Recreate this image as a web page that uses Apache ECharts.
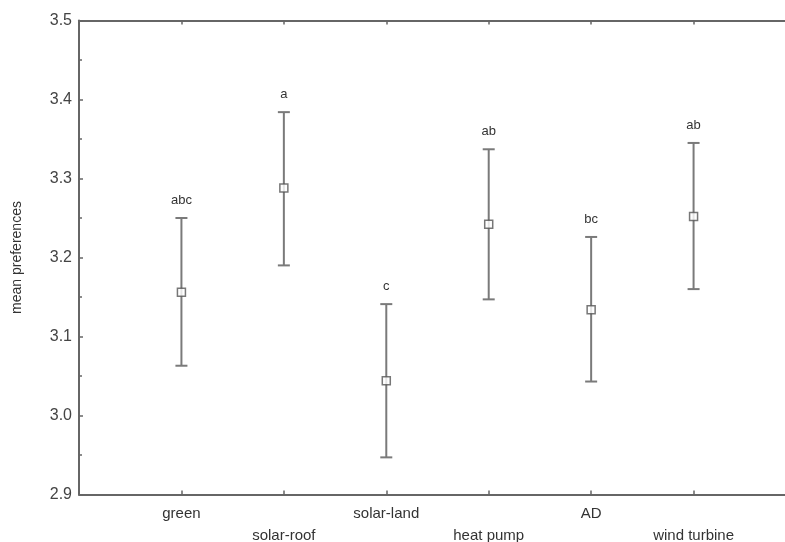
<!DOCTYPE html>
<html>
<head>
<meta charset="utf-8">
<script src="https://cdn.jsdelivr.net/npm/echarts@6/dist/echarts.min.js"></script>
<style>html,body{margin:0;padding:0;background:#fff}#c{width:785px;height:542px}</style>
</head>
<body>
<div id="c"></div>
<script>
var categories = ['green', 'solar-roof', 'solar-land', 'heat pump', 'AD', 'wind turbine'];
var means = [3.156, 3.288, 3.044, 3.242, 3.134, 3.252];
var upper = [3.250, 3.384, 3.141, 3.337, 3.226, 3.345];
var lower = [3.063, 3.190, 2.947, 3.147, 3.043, 3.160];
var letters = ['abc', 'a', 'c', 'ab', 'bc', 'ab'];
var yTicks = [2.9, 3.0, 3.1, 3.2, 3.3, 3.4, 3.5];

var font = 'Liberation Sans, Arial, sans-serif';
var chart = echarts.init(document.getElementById('c'), null, {renderer: 'canvas'});

var errData = categories.map(function (c, i) { return [i + 1, lower[i], upper[i], letters[i]]; });
var meanData = categories.map(function (c, i) { return [i + 1, means[i]]; });

chart.setOption({
  animation: false,
  backgroundColor: '#fff',
  grid: {left: 79, top: 20.5, width: 717, height: 474, containLabel: false, outerBoundsMode: 'none'},
  xAxis: [{
    type: 'value', position: 'bottom', min: 0, max: 7, interval: 1,
    axisLine: {show: true, onZero: false, lineStyle: {color: '#666', width: 2}},
    axisTick: {show: true, inside: true, length: 4, lineStyle: {color: '#666', width: 1.5}},
    splitLine: {show: false},
    axisLabel: {
      margin: 8, fontSize: 15, color: '#333', fontFamily: font, lineHeight: 22,
      formatter: function (v) {
        var i = Math.round(v) - 1;
        if (i < 0 || i >= categories.length) return '';
        return i % 2 === 1 ? '\n' + categories[i] : categories[i];
      }
    }
  }, {
    type: 'value', position: 'top', min: 0, max: 7, interval: 1,
    axisLine: {show: true, onZero: false, lineStyle: {color: '#666', width: 2}},
    axisTick: {show: true, inside: true, length: 4, lineStyle: {color: '#666', width: 1.5}},
    splitLine: {show: false},
    axisLabel: {show: false}
  }],
  yAxis: [{
    type: 'value', min: 2.9, max: 3.5, interval: 0.1,
    name: 'mean preferences', nameLocation: 'middle', nameGap: 55,
    nameTextStyle: {fontSize: 14, color: '#333', fontFamily: font},
    axisLine: {show: true, onZero: false, lineStyle: {color: '#666', width: 2}},
    axisTick: {show: true, inside: true, length: 4, lineStyle: {color: '#666', width: 1.5}},
    minorTick: {show: true, splitNumber: 2, length: 3, lineStyle: {color: '#666', width: 1.5}},
    splitLine: {show: false},
    axisLabel: {
      margin: 7, fontSize: 16, color: '#444', fontFamily: font,
      formatter: function (v) {
        for (var k = 0; k < yTicks.length; k++) {
          if (Math.abs(yTicks[k] - v) < 1e-6) return yTicks[k].toFixed(1);
        }
        return '';
      }
    }
  }],
  series: [{
    type: 'custom',
    data: errData,
    encode: {x: 0, y: [1, 2]},
    renderItem: function (params, api) {
      var x = api.value(0);
      var lo = api.coord([x, api.value(1)]);
      var hi = api.coord([x, api.value(2)]);
      var cap = 6;
      var st = {stroke: '#7a7a7a', lineWidth: 2};
      return {
        type: 'group',
        children: [
          {type: 'line', shape: {x1: lo[0], y1: lo[1], x2: hi[0], y2: hi[1]}, style: st},
          {type: 'line', shape: {x1: lo[0] - cap, y1: lo[1], x2: lo[0] + cap, y2: lo[1]}, style: st},
          {type: 'line', shape: {x1: hi[0] - cap, y1: hi[1], x2: hi[0] + cap, y2: hi[1]}, style: st},
          {type: 'text', x: hi[0], y: hi[1] - 18, style: {
            text: api.value(3), fill: '#333', font: '13px ' + font, align: 'center', verticalAlign: 'middle'
          }}
        ]
      };
    },
    z: 2
  }, {
    type: 'scatter',
    data: meanData,
    symbol: 'rect',
    symbolSize: 8,
    itemStyle: {color: '#fff', borderColor: '#555', borderWidth: 1.5},
    z: 3
  }]
});
</script>
</body>
</html>
